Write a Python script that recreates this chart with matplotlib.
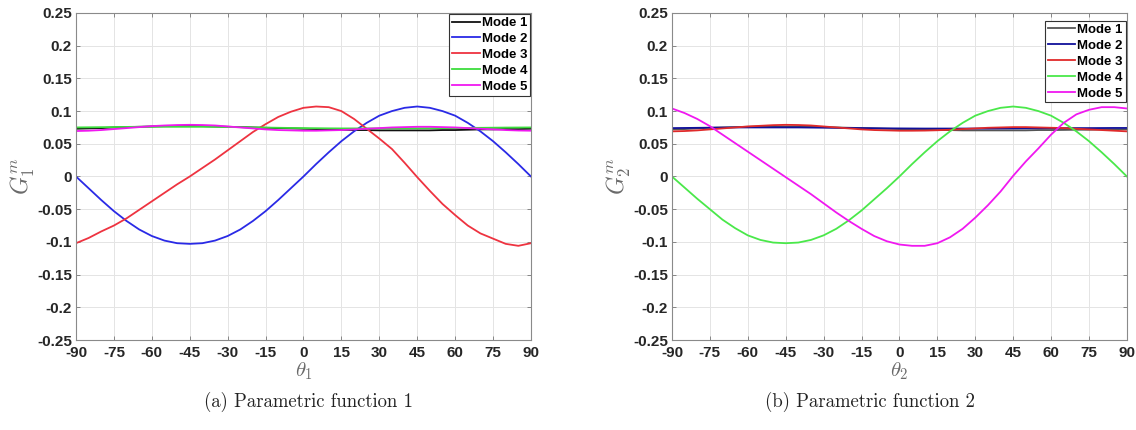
import matplotlib
matplotlib.use("Agg")
import matplotlib.pyplot as plt
import numpy as np

# angle grid, degrees
theta = list(range(-90, 91, 5))

# parametric function 1, one list per mode
g1_mode1 = [0.073, 0.0735, 0.074, 0.075, 0.0755, 0.076, 0.0765, 0.077, 0.077, 0.077,
            0.077, 0.0765, 0.076, 0.0755, 0.075, 0.0745, 0.074, 0.0735, 0.073, 0.0725,
            0.072, 0.0715, 0.071, 0.071, 0.0705, 0.0705, 0.0705, 0.0705, 0.0705, 0.071,
            0.071, 0.0715, 0.072, 0.072, 0.0725, 0.0725, 0.073]
g1_mode2 = [0.000, -0.018, -0.036, -0.053, -0.068, -0.081, -0.091, -0.098, -0.102, -0.103,
            -0.102, -0.098, -0.091, -0.081, -0.068, -0.053, -0.036, -0.018, 0.000, 0.019,
            0.037, 0.054, 0.069, 0.082, 0.093, 0.100, 0.105, 0.107, 0.105, 0.100,
            0.093, 0.082, 0.069, 0.054, 0.037, 0.019, 0.000]
g1_mode3 = [-0.102, -0.094, -0.084, -0.075, -0.064, -0.051, -0.038, -0.025, -0.012, 0.000,
            0.013, 0.026, 0.040, 0.054, 0.068, 0.080, 0.091, 0.099, 0.105, 0.107,
            0.106, 0.100, 0.088, 0.073, 0.058, 0.042, 0.021, -0.001, -0.022, -0.042,
            -0.059, -0.075, -0.087, -0.095, -0.103, -0.106, -0.102]
g1_mode4 = [0.075, 0.0752, 0.0754, 0.0756, 0.0758, 0.076, 0.076, 0.076, 0.076, 0.076,
            0.076, 0.0758, 0.0756, 0.0754, 0.075, 0.0748, 0.0745, 0.0742, 0.074, 0.0738,
            0.0736, 0.0735, 0.0735, 0.0735, 0.0735, 0.0735, 0.0736, 0.0737, 0.0738, 0.074,
            0.074, 0.0742, 0.0744, 0.0746, 0.0748, 0.0749, 0.075]
g1_mode5 = [0.0695, 0.070, 0.071, 0.0725, 0.074, 0.0755, 0.077, 0.078, 0.0787, 0.079,
            0.0787, 0.078, 0.0765, 0.075, 0.0735, 0.072, 0.071, 0.0705, 0.070, 0.070,
            0.0705, 0.071, 0.072, 0.073, 0.074, 0.075, 0.0755, 0.076, 0.076, 0.0755,
            0.075, 0.074, 0.073, 0.072, 0.071, 0.0703, 0.070]

# parametric function 2
g2_mode1 = [0.072, 0.0725, 0.0735, 0.0745, 0.075, 0.0755, 0.076, 0.0765, 0.0765, 0.0765,
            0.0765, 0.076, 0.0755, 0.075, 0.0745, 0.074, 0.0735, 0.073, 0.0725, 0.072,
            0.0715, 0.071, 0.071, 0.0705, 0.0705, 0.0705, 0.0705, 0.0705, 0.0705, 0.071,
            0.071, 0.0712, 0.0715, 0.0715, 0.072, 0.072, 0.072]
g2_mode2 = [0.074, 0.0742, 0.0744, 0.0746, 0.0748, 0.075, 0.075, 0.075, 0.075, 0.075,
            0.075, 0.0748, 0.0746, 0.0744, 0.0742, 0.074, 0.0738, 0.0736, 0.0735, 0.0734,
            0.0733, 0.0733, 0.0733, 0.0733, 0.0733, 0.0733, 0.0734, 0.0735, 0.0736, 0.0737,
            0.0738, 0.0739, 0.074, 0.074, 0.0741, 0.0742, 0.0742]
g2_mode3 = [0.069, 0.0695, 0.0705, 0.072, 0.0735, 0.075, 0.0765, 0.0775, 0.0785, 0.079,
            0.0787, 0.078, 0.0765, 0.075, 0.0735, 0.072, 0.071, 0.0705, 0.070, 0.070,
            0.0702, 0.0707, 0.0715, 0.0725, 0.0735, 0.0745, 0.075, 0.0755, 0.0755, 0.075,
            0.0745, 0.074, 0.073, 0.072, 0.071, 0.070, 0.069]
g2_mode4 = [0.000, -0.017, -0.034, -0.050, -0.066, -0.079, -0.090, -0.097, -0.101, -0.102,
            -0.101, -0.097, -0.090, -0.080, -0.067, -0.052, -0.035, -0.018, 0.000, 0.019,
            0.037, 0.054, 0.069, 0.082, 0.093, 0.100, 0.105, 0.107, 0.105, 0.100,
            0.093, 0.082, 0.069, 0.054, 0.037, 0.019, 0.000]
g2_mode5 = [0.104, 0.097, 0.088, 0.077, 0.064, 0.051, 0.038, 0.025, 0.012, -0.001,
            -0.014, -0.027, -0.041, -0.055, -0.068, -0.080, -0.091, -0.099, -0.104, -0.106,
            -0.106, -0.102, -0.093, -0.080, -0.063, -0.044, -0.023, 0.001, 0.023, 0.043,
            0.064, 0.082, 0.095, 0.102, 0.106, 0.106, 0.104]

mode_labels = ["Mode 1", "Mode 2", "Mode 3", "Mode 4", "Mode 5"]
colors1 = ["#111111", "#2a2ae6", "#ee3340", "#3ddc3d", "#f018f0"]
colors2 = ["#555555", "#10109a", "#e02a2a", "#4ae84a", "#f018f0"]

x_ticks = list(range(-90, 91, 15))
y_ticks = [-0.25, -0.2, -0.15, -0.1, -0.05, 0, 0.05, 0.1, 0.15, 0.2, 0.25]
y_ticklabels = ["-0.25", "-0.2", "-0.15", "-0.1", "-0.05", "0", "0.05", "0.1", "0.15", "0.2", "0.25"]

plt.rcParams["mathtext.fontset"] = "cm"
plt.rcParams["font.family"] = ["Liberation Sans", "DejaVu Sans"]

fig = plt.figure(figsize=(11.36, 4.30), dpi=100)

panels = [
    ([0.0669, 0.2093, 0.4005, 0.7605], [g1_mode1, g1_mode2, g1_mode3, g1_mode4, g1_mode5],
     colors1, r"$G_1^{m}$", r"$\theta_1$", "(a) Parametric function 1", 0.272, (1.0, 1.0)),
    ([0.5915, 0.2093, 0.4005, 0.7605], [g2_mode1, g2_mode2, g2_mode3, g2_mode4, g2_mode5],
     colors2, r"$G_2^{m}$", r"$\theta_2$", "(b) Parametric function 2", 0.766, (1.0, 0.979)),
]

for rect, series, cols, ylab, xlab, caption, cap_x, leg_anchor in panels:
    ax = fig.add_axes(rect)
    for vals, c, lab in zip(series, cols, mode_labels):
        ax.plot(theta, vals, color=c, lw=1.3, label=lab)

    ax.set_xlim(-90, 90)
    ax.set_ylim(-0.25, 0.25)
    ax.set_xticks(x_ticks)
    ax.set_yticks(y_ticks)
    ax.set_xticklabels([str(t) for t in x_ticks])
    ax.set_yticklabels(y_ticklabels)
    ax.tick_params(direction="in", length=3, width=0.6, color="#777777",
                   top=True, right=True, labelsize=11, labelcolor="#262626")
    ax.tick_params(axis="x", pad=4)
    ax.tick_params(axis="y", pad=3)
    for lbl in ax.get_xticklabels() + ax.get_yticklabels():
        lbl.set_fontweight("bold")
    for sp in ax.spines.values():
        sp.set_color("#8a8a8a")
        sp.set_linewidth(0.8)
    ax.grid(True, color="#e4e4e4", lw=0.7)
    ax.set_axisbelow(True)

    ax.set_ylabel(ylab, fontsize=17, color="#6a6a6a", labelpad=0)
    ax.set_xlabel(xlab, fontsize=15, color="#6a6a6a", labelpad=1)

    leg = ax.legend(loc="upper right", bbox_to_anchor=leg_anchor,
                    prop={"weight": "bold", "size": 9.5}, frameon=True, fancybox=False,
                    edgecolor="#333333", framealpha=1, borderpad=0.2,
                    labelspacing=0.28, handlelength=2.1, handletextpad=0.15,
                    borderaxespad=0.1)
    leg.get_frame().set_linewidth(0.8)

    fig.text(cap_x, 0.065, caption, ha="center", va="center",
             fontsize=13.5, family="cmr10", color="#222222")

fig.savefig("out.png", dpi=100)
